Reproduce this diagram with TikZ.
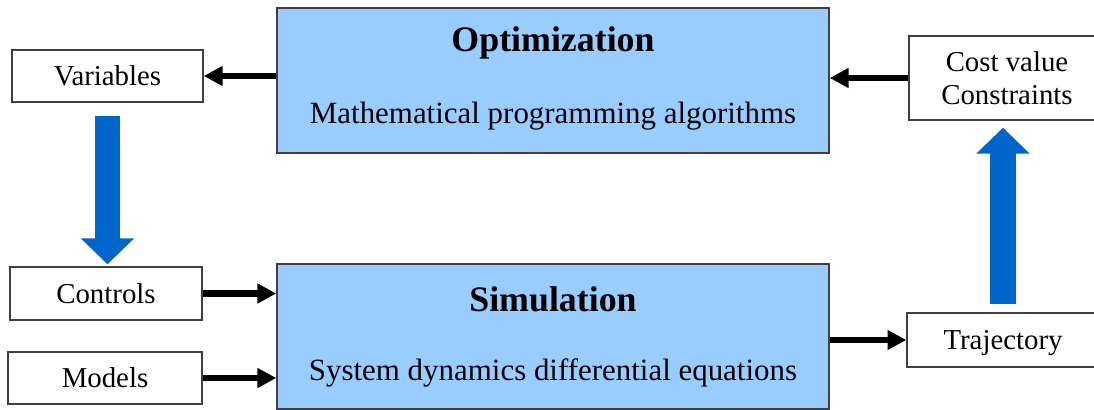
\documentclass[tikz,border=0pt]{standalone}
\usepackage{xcolor}
\usepackage{tikz}
\usepackage{fontspec}
\setmainfont{Liberation Serif}
\usetikzlibrary{arrows.meta, positioning, calc}

\definecolor{boxblue}{HTML}{99CCFF}
\definecolor{bigblue}{HTML}{0066CC}

\begin{document}
\begin{tikzpicture}[
    blockbox/.style={rectangle,draw=black!75,line width=1pt,fill=boxblue},
    smallbox/.style={rectangle,draw=black!75,line width=1pt,fill=white,font=\fontsize{20.5}{23.5}\selectfont,text depth=0pt},
    flow/.style={line width=0.16cm,-{Triangle[length=0.47cm,width=0.47cm]}},
    bigflow/.style={bigblue,line width=0.63cm,-{Triangle[length=0.65cm,width=1.3cm]}}
]
    \useasboundingbox (0,0) rectangle (27.35,10.25);

    % Blocchi principali
    \node[blockbox,minimum width=13.8cm,minimum height=3.625cm] (opt) at (13.825,8.2375) {};
    \node[font=\fontsize{25.5}{28}\selectfont\bfseries] (opttitle) at (13.825,9.175) {Optimization};
    \node[font=\fontsize{22}{26}\selectfont] (optsub) at (13.825,7.35) {Mathematical programming algorithms};

    \node[blockbox,minimum width=13.8cm,minimum height=3.625cm] (sim) at (13.825,1.8375) {};
    \node[font=\fontsize{25.5}{28}\selectfont\bfseries] (simtitle) at (13.825,2.775) {Simulation};
    \node[font=\fontsize{22}{26}\selectfont] (simsub) at (13.825,0.925) {System dynamics differential equations};

    % Ingressi e uscite
    \node[smallbox,minimum width=4.775cm,minimum height=1.3cm] (var) at (2.6875,8.35) {Variables};
    \node[smallbox,minimum width=4.8cm,minimum height=1.325cm] (ctrl) at (2.65,2.9125) {Controls};
    \node[smallbox,minimum width=4.85cm,minimum height=1.3cm] (models) at (2.625,0.8) {Models};
    \node[smallbox,align=center,text depth=,minimum width=4.9cm,minimum height=2.1cm] (cost) at (25.175,8.3) {Cost value\\Constraints};
    \node[smallbox,minimum width=4.8cm,minimum height=1.35cm] (traj) at (25.075,1.75) {Trajectory};

    % Frecce
    \draw[flow] (opt.west |- var.east) -- (var.east);
    \draw[flow] (cost.west) -- (cost.west -| opt.east);
    \draw[flow] (ctrl.east) -- (ctrl.east -| sim.west);
    \draw[flow] (models.east) -- (models.east -| sim.west);
    \draw[flow] (sim.east |- traj.west) -- (traj.west);

    \draw[bigflow,shorten <=0.325cm,shorten >=0.05cm] (var.south) -- (var.south |- ctrl.north);
    \draw[bigflow,shorten <=0.2cm,shorten >=0.175cm] (traj.north) -- (traj.north |- cost.south);
\end{tikzpicture}
\end{document}
